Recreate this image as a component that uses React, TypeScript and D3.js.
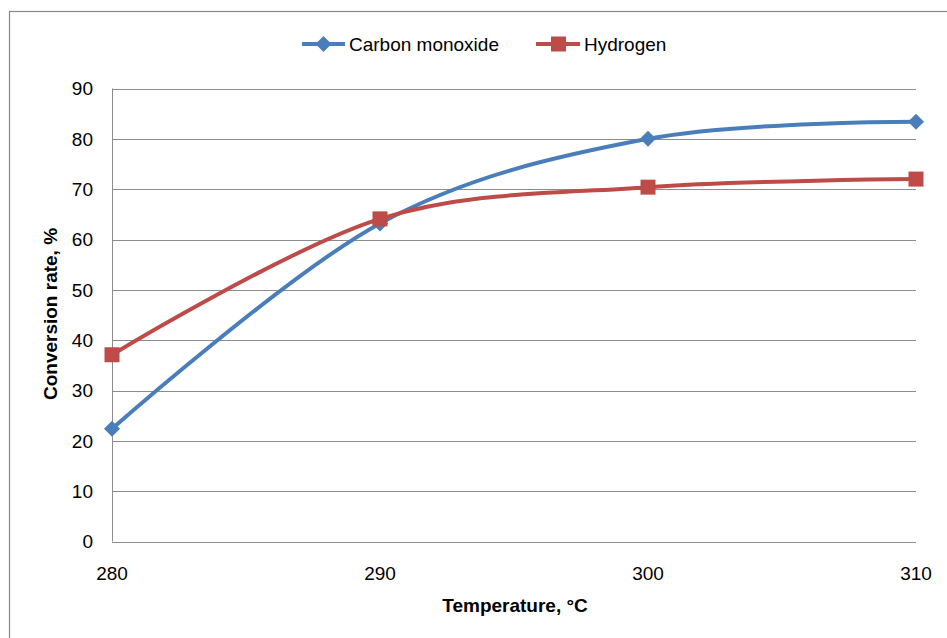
import React from "react";
import * as d3 from "d3";

const temperatures = [280, 290, 300, 310];
const carbonMonoxide = [22.4, 63.2, 80.0, 83.4];
const hydrogen = [37.1, 64.1, 70.4, 72.0];
const yTicks = [0, 10, 20, 30, 40, 50, 60, 70, 80, 90];
const xTicks = [280, 290, 300, 310];
const seriesNames = ["Carbon monoxide", "Hydrogen"];

const W = 947;
const H = 638;
const M = { left: 112, right: 916, top: 88.5, bottom: 541.5 };
const FONT = "'Liberation Sans', Arial, sans-serif";
const BLUE = "#4A7EBB";
const RED = "#BE4B48";
const GRID = "#8C8C8C";

export default function App() {
  const x = d3.scaleLinear().domain([280, 310]).range([M.left, M.right]);
  const y = d3.scaleLinear().domain([0, 90]).range([M.bottom, M.top]);
  const line = d3
    .line<number>()
    .x((_, i) => x(temperatures[i]))
    .y((d) => y(d))
    .curve(d3.curveCardinal.tension(0));

  const diamond = (cx: number, cy: number, r: number) =>
    `M${cx},${cy - r}L${cx + r},${cy}L${cx},${cy + r}L${cx - r},${cy}Z`;

  return (
    <svg
      width={W}
      height={H}
      style={{ position: "absolute", left: 0, top: 0, display: "block", background: "#fff" }}
    >
      <rect x={9.5} y={11.5} width={960} height={660} fill="#fff" stroke="#888" strokeWidth={1.2} />
      {yTicks.map((t) => (
        <g key={t}>
          <line x1={M.left} x2={M.right} y1={Math.round(y(t)) + 0.5} y2={Math.round(y(t)) + 0.5} stroke={GRID} strokeWidth={1} />
          <text x={93} y={y(t)} dy="0.36em" textAnchor="end" fontFamily={FONT} fontSize={19} fill="#000">
            {t}
          </text>
        </g>
      ))}
      <line x1={M.left + 0.5} x2={M.left + 0.5} y1={M.top} y2={M.bottom} stroke={GRID} strokeWidth={1} />
      {xTicks.map((t) => (
        <text key={t} x={x(t)} y={573} dy="0.36em" textAnchor="middle" fontFamily={FONT} fontSize={19} fill="#000">
          {t}
        </text>
      ))}
      <text x={515} y={605} dy="0.36em" textAnchor="middle" fontFamily={FONT} fontSize={19} fontWeight="bold" fill="#000">
        Temperature, °C
      </text>
      <text
        transform={`translate(50,314) rotate(-90)`}
        dy="0.36em"
        textAnchor="middle"
        fontFamily={FONT}
        fontSize={19}
        fontWeight="bold"
        fill="#000"
      >
        Conversion rate, %
      </text>

      <path d={line(carbonMonoxide) || ""} fill="none" stroke={BLUE} strokeWidth={4} strokeLinecap="round" />
      <path d={line(hydrogen) || ""} fill="none" stroke={RED} strokeWidth={4} strokeLinecap="round" />
      {carbonMonoxide.map((v, i) => (
        <path key={i} d={diamond(x(temperatures[i]), y(v), 8)} fill={BLUE} />
      ))}
      {hydrogen.map((v, i) => (
        <rect key={i} x={x(temperatures[i]) - 7.5} y={y(v) - 7.5} width={15} height={15} fill={RED} />
      ))}

      <g>
        <line x1={302} x2={345} y1={44} y2={44} stroke={BLUE} strokeWidth={4} />
        <path d={diamond(323.5, 44, 8)} fill={BLUE} />
        <text x={349} y={44} dy="0.36em" fontFamily={FONT} fontSize={19} fill="#000">
          {seriesNames[0]}
        </text>
        <line x1={536} x2={580} y1={44} y2={44} stroke={RED} strokeWidth={4} />
        <rect x={551} y={36.5} width={15} height={15} fill={RED} />
        <text x={584} y={44} dy="0.36em" fontFamily={FONT} fontSize={19} fill="#000">
          {seriesNames[1]}
        </text>
      </g>
    </svg>
  );
}
